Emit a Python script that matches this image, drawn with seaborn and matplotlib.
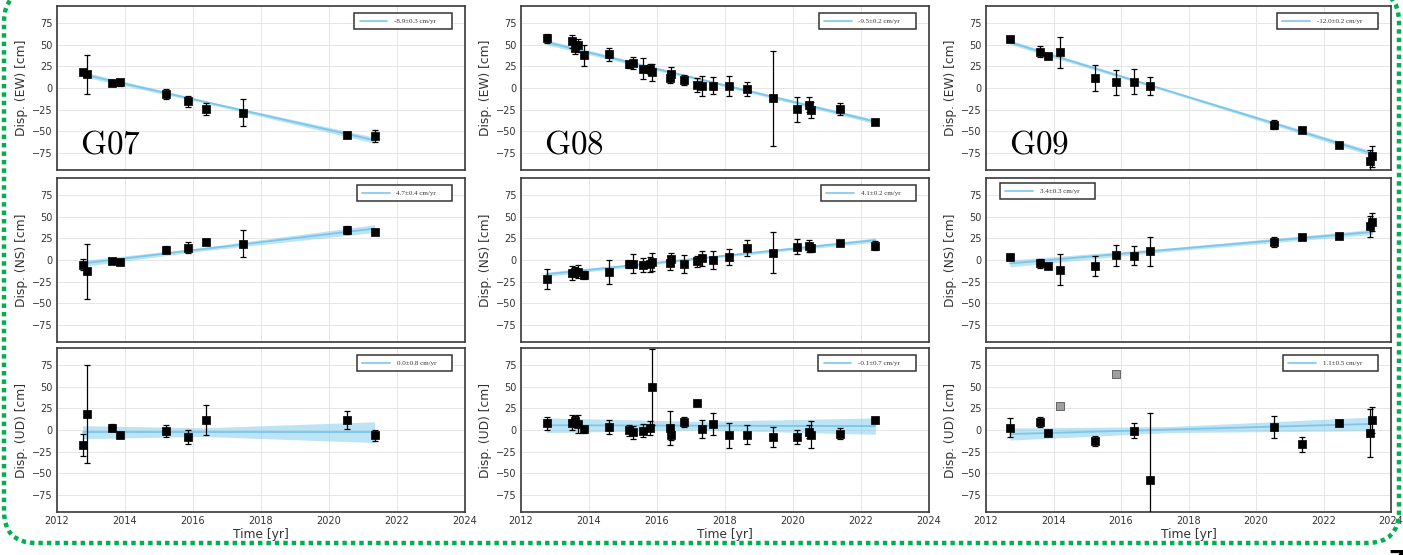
import numpy as np
import matplotlib
matplotlib.use("Agg")
import matplotlib.pyplot as plt
import seaborn as sns
from matplotlib.patches import FancyBboxPatch
from matplotlib.lines import Line2D

sns.set_theme(style="whitegrid")
plt.rcParams["font.family"] = ["DejaVu Sans"]
plt.rcParams["mathtext.fontset"] = "cm"

# ---------------- data ----------------
stations = ["G07", "G08", "G09"]
components = ["EW", "NS", "UD"]

# G07
g07_t = [2012.75, 2012.89, 2013.61, 2013.85, 2015.20, 2015.84, 2016.38, 2017.46, 2020.52, 2021.34]
g07_ew = [18.3, 15.9, 6.2, 6.6, -7.0, -15.5, -24.0, -28.4, -54.4, -55.6]
g07_ew_err = [3, 22.5, 3, 4, 5.6, 6.6, 7, 15.7, 3, 7]
g07_ns = [-5.4, -13.2, -0.8, -2.3, 11.7, 14.4, 21.0, 18.7, 34.6, 33.0]
g07_ns_err = [6, 31.7, 2, 3.5, 4, 6, 3.5, 15.7, 5, 2]
g07_ud_t = [2012.75, 2012.89, 2013.61, 2013.85, 2015.20, 2015.84, 2016.38, 2020.52, 2021.34]
g07_ud = [-17.1, 18.7, 2.7, -6.2, -0.8, -7.8, 11.7, 11.7, -6.2]
g07_ud_err = [12.6, 57, 4, 3.5, 6.8, 8.3, 17, 10.7, 6]

# G08
g08_t = [2012.75, 2013.49, 2013.60, 2013.69, 2013.85, 2014.60, 2015.19, 2015.30, 2015.60,
         2015.79, 2015.85, 2016.38, 2016.41, 2016.80, 2017.19, 2017.31, 2017.64, 2018.11,
         2018.64, 2019.42, 2020.12, 2020.46, 2020.52, 2021.38, 2022.42]
g08_ew = [57.5, 54.0, 46.6, 49.4, 37.7, 38.9, 27.6, 29.1, 22.2, 22.2, 18.3, 11.7, 16.3,
          9.3, 3.9, 2.7, 2.7, 1.9, -1.2, -12.0, -24.9, -19.4, -25.3, -24.5, -39.3]
g08_ew_err = [5.6, 7.6, 7, 7.8, 12, 7.8, 4, 6.8, 12, 6, 10, 5.5, 7.6, 6, 8, 11.7, 9.7,
              11.7, 8.2, 55, 15, 8.5, 9, 7, 2]
g08_ns = [-22.2, -15.2, -13.6, -13.6, -17.5, -14.0, -4.3, -4.3, -5.8, -4.7, -2.7, -3.5,
          0.8, -4.7, -1.6, 1.9, 0.0, 3.5, 14.0, 8.6, 15.2, 16.7, 14.0, 19.8, 16.7]
g08_ns_err = [11.7, 8, 6, 7.8, 5, 13.6, 4.6, 11.3, 8, 8.7, 10.5, 7.8, 7, 10.7, 6.6, 9,
              10.7, 9.5, 9.7, 23.3, 8.7, 7, 4.7, 2.5, 5.5]
g08_ud = [7.8, 8.6, 10.5, 7.0, 0.8, 3.9, -0.4, -2.7, -0.8, 1.9, 49.4, 2.3, -5.8, 9.3,
          31.1, 1.6, 7.0, -6.2, -5.4, -8.2, -7.8, -1.9, -5.4, -4.3, 11.7]
g08_ud_err = [7.8, 9, 5.5, 10.7, 4.3, 8, 6.2, 7.8, 7.8, 8, 44, 19.4, 6, 6.2, 3.5, 10.5,
              12.6, 14.6, 11.3, 11.3, 8.2, 7.8, 15.5, 6.2, 3.9]

# G09
g09_t = [2012.71, 2013.61, 2013.84, 2014.18, 2015.22, 2015.86, 2016.39, 2016.85, 2020.52,
         2021.36, 2022.46, 2023.38, 2023.45]
g09_ew = [56.4, 42.0, 36.5, 41.6, 11.7, 6.6, 7.4, 1.9, -42.4, -48.2, -66.5, -84.0, -79.3]
g09_ew_err = [2, 6.2, 1.5, 18, 15.5, 14.2, 14.6, 10.5, 5, 1.5, 1, 12, 12]
g09_ns = [3.9, -3.9, -6.6, -11.3, -6.6, 5.4, 4.7, 10.1, 21.4, 26.4, 28.0, 38.9, 43.9]
g09_ns_err = [3.5, 5.4, 2.5, 18, 11.7, 12.4, 11, 17, 5.8, 1.5, 1.5, 12, 10.5]
g09_ud_t = [2012.71, 2013.61, 2013.84, 2015.22, 2016.39, 2016.85, 2020.52, 2021.36,
            2022.46, 2023.38, 2023.45]
g09_ud = [2.7, 9.3, -3.9, -12.8, -0.8, -57.5, 3.1, -16.7, 8.2, -3.5, 11.7]
g09_ud_err = [10.7, 5.8, 2, 5.4, 9, 77.7, 12.8, 9, 2, 28, 15]
g09_ud_out_t = [2014.18, 2015.86]
g09_ud_out = [28.0, 65.3]

# linear fits: (t_start, t_mid, t_end), (v_start, v_end), band half-widths (start, mid, end)
fit_t = {"G07": (2012.75, 2016.3, 2021.34),
         "G08": (2012.75, 2017.3, 2022.42),
         "G09": (2012.71, 2017.5, 2023.45)}
fit_v = {("G07", "EW"): (16.0, -60.5), ("G07", "NS"): (-4.0, 36.4), ("G07", "UD"): (-2.5, -2.5),
         ("G08", "EW"): (53.0, -39.0), ("G08", "NS"): (-16.5, 23.0), ("G08", "UD"): (5.5, 4.5),
         ("G09", "EW"): (53.0, -76.0), ("G09", "NS"): (-4.0, 32.5), ("G09", "UD"): (-4.7, 7.1)}
fit_band = {("G07", "EW"): (3, 1.5, 3.5), ("G07", "NS"): (3.5, 2, 4.5), ("G07", "UD"): (7.5, 5, 12),
            ("G08", "EW"): (3, 1.5, 2.5), ("G08", "NS"): (2.5, 1.2, 2.5), ("G08", "UD"): (8.5, 5, 9.5),
            ("G09", "EW"): (2.5, 1.5, 3), ("G09", "NS"): (4, 2, 3), ("G09", "UD"): (7, 3.5, 8)}
legend_txt = {("G07", "EW"): "-8.9±0.3 cm/yr", ("G07", "NS"): "4.7±0.4 cm/yr", ("G07", "UD"): "0.0±0.8 cm/yr",
              ("G08", "EW"): "-9.5±0.2 cm/yr", ("G08", "NS"): "4.1±0.2 cm/yr", ("G08", "UD"): "-0.1±0.7 cm/yr",
              ("G09", "EW"): "-12.0±0.2 cm/yr", ("G09", "NS"): "3.4±0.3 cm/yr", ("G09", "UD"): "1.1±0.5 cm/yr"}

series = {
    ("G07", "EW"): (g07_t, g07_ew, g07_ew_err), ("G07", "NS"): (g07_t, g07_ns, g07_ns_err),
    ("G07", "UD"): (g07_ud_t, g07_ud, g07_ud_err),
    ("G08", "EW"): (g08_t, g08_ew, g08_ew_err), ("G08", "NS"): (g08_t, g08_ns, g08_ns_err),
    ("G08", "UD"): (g08_t, g08_ud, g08_ud_err),
    ("G09", "EW"): (g09_t, g09_ew, g09_ew_err), ("G09", "NS"): (g09_t, g09_ns, g09_ns_err),
    ("G09", "UD"): (g09_ud_t, g09_ud, g09_ud_err),
}

x_ticks = [2012, 2014, 2016, 2018, 2020, 2022, 2024]
y_ticks = [-75, -50, -25, 0, 25, 50, 75]

# ---------------- figure ----------------
W, H = 1403, 555
fig = plt.figure(figsize=(W / 100, H / 100), dpi=100)
fig.patch.set_facecolor("white")

col_px = [(57, 465), (521, 929), (986, 1391)]
row_px = [(6, 170), (178, 342), (348, 512)]

line_col = "#7cc6ea"
band_col = "#87CEEB"
spine_col = "#3a3a3a"

for ci, st in enumerate(stations):
    for ri, comp in enumerate(components):
        l, r = col_px[ci]
        t, b = row_px[ri]
        ax = fig.add_axes([l / W, 1 - b / H, (r - l) / W, (b - t) / H])
        ax.set_facecolor("white")
        key = (st, comp)
        tt, vv, ee = series[key]

        # fit band + line
        ts, tm, te = fit_t[st]
        vs, ve = fit_v[key]
        hs, hm, he = fit_band[key]
        vm = vs + (ve - vs) * (tm - ts) / (te - ts)
        bx = [ts, tm, te]
        by = [vs, vm, ve]
        ax.fill_between(bx, [by[0] - hs, by[1] - hm, by[2] - he],
                        [by[0] + hs, by[1] + hm, by[2] + he],
                        color=band_col, alpha=0.55, lw=0, zorder=2)
        sns.lineplot(x=[ts, te], y=[vs, ve], ax=ax, color=line_col, lw=1.3, zorder=3,
                     legend=False)

        # data
        ax.errorbar(tt, vv, yerr=ee, fmt="none", ecolor="black", elinewidth=0.9,
                    capsize=2.5, capthick=0.9, zorder=4)
        sns.scatterplot(x=tt, y=vv, ax=ax, marker="s", s=30, color="black",
                        edgecolor="black", linewidth=0.5, zorder=5, legend=False)
        if key == ("G09", "UD"):
            sns.scatterplot(x=g09_ud_out_t, y=g09_ud_out, ax=ax, marker="s", s=26,
                            color="#a0a0a0", edgecolor="#555555", linewidth=0.6,
                            zorder=5, legend=False)

        ax.set_xlim(2012, 2024)
        ax.set_ylim(-95, 95)
        ax.set_xticks(x_ticks)
        ax.set_yticks(y_ticks)
        ax.set_yticklabels(["\u221275", "\u221250", "\u221225", "0", "25", "50", "75"])
        ax.grid(True, color="#e6e6e6", lw=0.7)
        for sp in ax.spines.values():
            sp.set_color(spine_col)
            sp.set_linewidth(1.2)
        ax.tick_params(direction="in", length=3, width=0.8, color=spine_col,
                       labelsize=7, labelcolor="#333333", pad=3)
        ax.set_ylabel(f"Disp. ({comp}) [cm]", fontsize=8.8, color="#333333", labelpad=3)
        if ri == 2:
            ax.set_xlabel("Time [yr]", fontsize=8.8, color="#333333", labelpad=1)
            ax.set_xticklabels([str(v) for v in x_ticks])
        else:
            ax.set_xlabel("")
            ax.set_xticklabels([])

        # legend
        h = Line2D([0], [0], color=line_col, lw=1.2)
        lprop = {"family": ["Liberation Serif"], "size": 5}
        common = dict(borderaxespad=0, prop=lprop, handlelength=4.0,
                      handletextpad=1.0, borderpad=0.75, fancybox=False,
                      framealpha=1, edgecolor="#333333", labelcolor="#333333")
        if key == ("G09", "NS"):
            leg = ax.legend([h], [legend_txt[key] + "      "], loc="upper left",
                            bbox_to_anchor=(0.034, 0.97), **common)
        else:
            leg = ax.legend([h], [legend_txt[key] + "      "], loc="upper right",
                            bbox_to_anchor=(0.968, 0.957), **common)
        leg.get_frame().set_linewidth(1.1)

        if ri == 0:
            ax.text(0.056, 0.10, r"$\mathrm{" + st + "}$", transform=ax.transAxes,
                    fontsize=24, color="black", va="baseline", ha="left", zorder=6)

# overlay in pixel coordinates for the slide decoration
ov = fig.add_axes([0, 0, 1, 1], facecolor="none")
ov.set_xlim(0, W)
ov.set_ylim(H, 0)
ov.axis("off")
border = FancyBboxPatch((4, -10), 1395, 553,
                        boxstyle="round,pad=0,rounding_size=32",
                        fill=False, edgecolor="#00b050", lw=3.2,
                        linestyle=(0, (1, 0.9)), clip_on=False)
ov.add_patch(border)

fig.text(1388 / W, 6 / H, "7", fontsize=18, fontweight="bold", color="black",
         ha="left", va="top")

fig.savefig("out.png", dpi=100, facecolor="white")
